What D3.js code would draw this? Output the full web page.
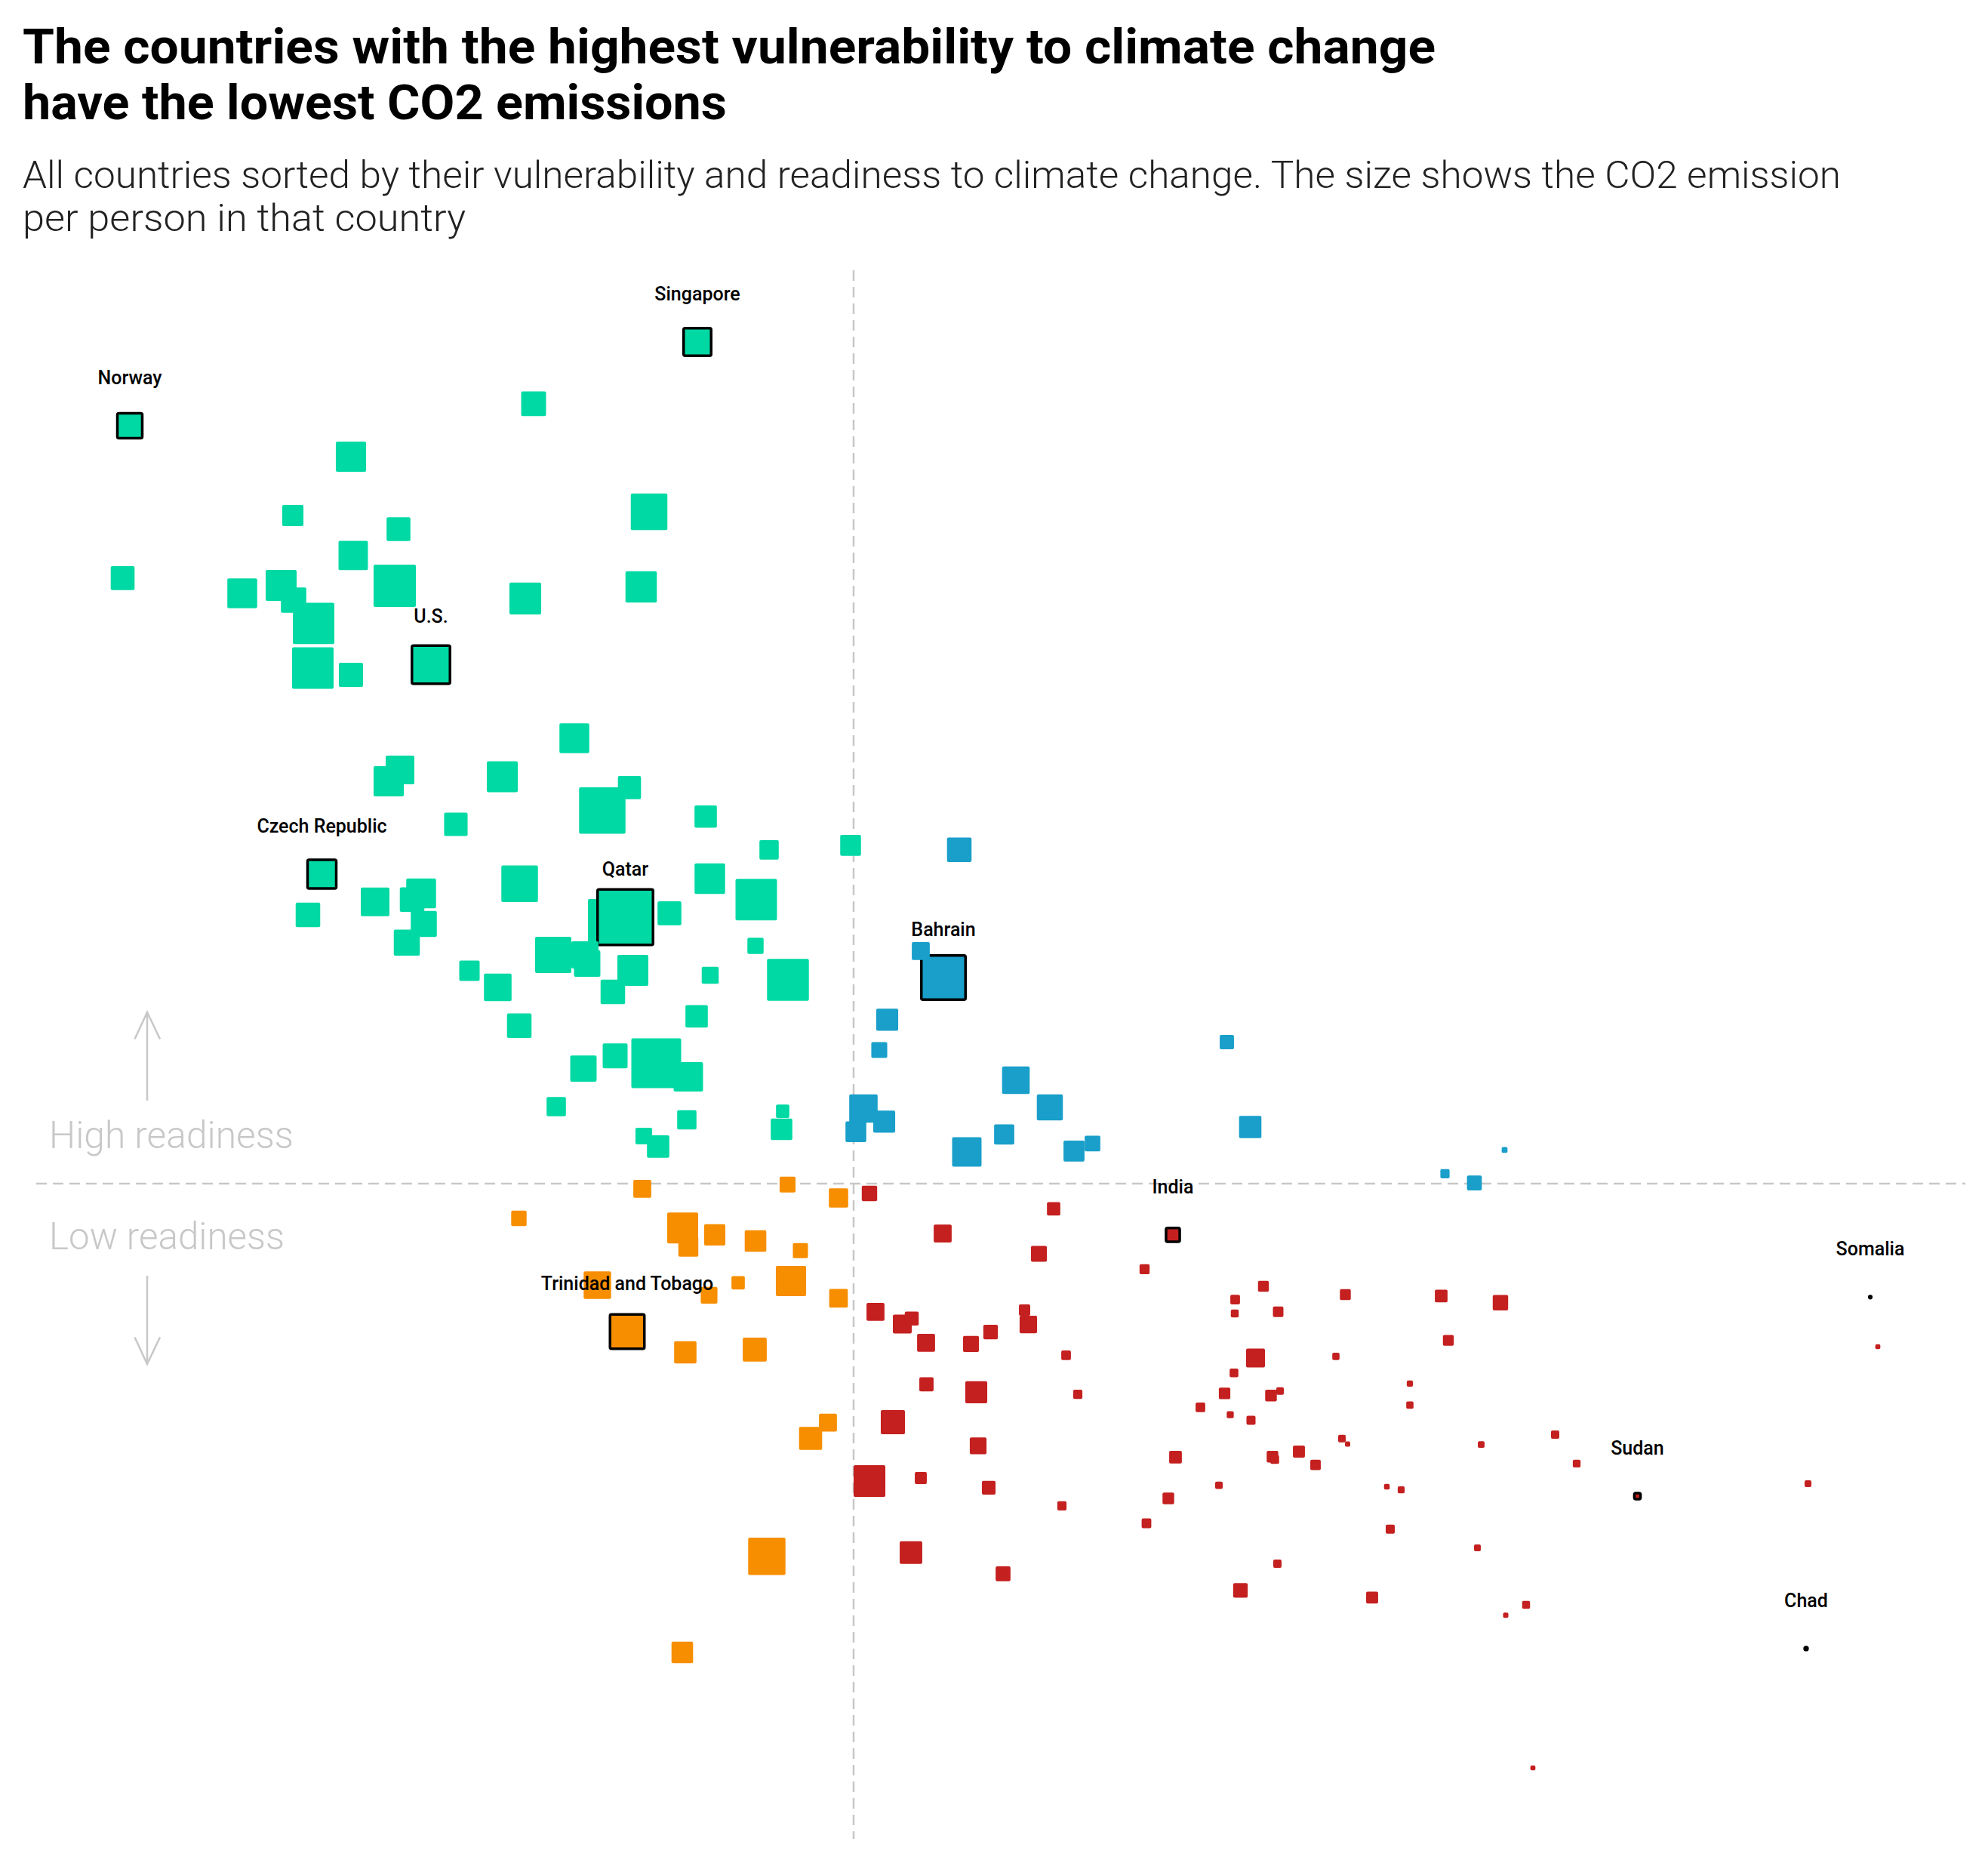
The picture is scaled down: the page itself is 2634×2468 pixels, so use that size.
<!DOCTYPE html>
<html><head><meta charset="utf-8">
<script src="https://cdn.jsdelivr.net/npm/d3@7"></script>
<style>body{margin:0;background:#fff}svg{display:block}</style>
</head><body>
<script>
// ---------------- DATA ----------------
const titleLines = ["The countries with the highest vulnerability to climate change", "have the lowest CO2 emissions"];
const subtitleLines = ["All countries sorted by their vulnerability and readiness to climate change. The size shows the CO2 emission", "per person in that country"];
const readinessLabels = ["High readiness", "Low readiness"];

// Quadrant thresholds (vulnerability / readiness)
const vulnMid = 0.4262, readMid = 0.3773;

// Countries: vulnerability score, readiness score, CO2 per person (t)
const vulnerability = [
  // low vulnerability, high readiness
  .3848,.2344,.3414,.2930,.2776,.3056,.3720,.2936,.2325,.2642,.2745,.2778,.2831,.3046,.3392,.3699,.3142,.2829,.2930,.3522,
  .3060,.3030,.3331,.3596,.3668,.3208,.3870,.4038,.4254,.2853,.2816,.2994,.3092,.3116,.3123,.3078,.3377,.3616,.3657,.3774,
  .3881,.4004,.4002,.3466,.3550,.3556,.3677,.3624,.3244,.3319,.3882,.4088,.3376,.3846,.3630,.3739,.3546,.3824,.3474,.3820,
  .4074,.4071,.3706,.3744,
  // high vulnerability, high readiness
  .4542,.4500,.4440,.4351,.4330,.5251,.4692,.4288,.4343,.4268,.4782,.5313,.4661,.4562,.4846,.4895,.5829,.5987,.5907,
  // low vulnerability, low readiness
  .3702,.4087,.4222,.3375,.3809,.3824,.3894,.4002,.4121,.3583,.3956,.4096,.3879,.4222,.3662,.3816,.4000,.4194,.4148,.4032,.3808,
  // high vulnerability, low readiness
  .4304,.4792,.4498,.5108,.4753,.5033,.4320,.4391,.4416,.4454,.4573,.4625,.4715,.4725,.4825,.4455,.4587,.4856,.4366,.4592,
  .4304,.4440,.4620,.4814,.4414,.4658,.5115,.5096,.5038,.5230,.5181,.5260,.5315,.5245,.5270,.5327,.5368,.5392,.5273,.5272,
  .5348,.5387,.5565,.5540,.5372,.5378,.5442,.5486,.5556,.5571,.5287,.5385,.5819,.5976,.5838,.5736,.5736,.5925,.6121,.6178,
  .6339,.6791,.5675,.5713,.5684,.5915,.5636,.6044,.5990,.6786,.6956,.6976,.6062
];
const readiness = [
  .7490,.7120,.7217,.6983,.6723,.6663,.6740,.6547,.6447,.6380,.6415,.6350,.6247,.6413,.6357,.6408,.6065,.6050,.6020,.5740,
  .5600,.5550,.5570,.5421,.5522,.5360,.5394,.5247,.5267,.5140,.4960,.5017,.5027,.5055,.4920,.4837,.5097,.4933,.4950,.4967,
  .5120,.5027,.4823,.4783,.4783,.4745,.4715,.4620,.4713,.4640,.4693,.4673,.4471,.4512,.4337,.4305,.4281,.4245,.4113,.4055,
  .4093,.4013,.3983,.3937,
  .5247,.4683,.4800,.4497,.4363,.4398,.4230,.4105,.4047,.4002,.4110,.4023,.3990,.3913,.3917,.3950,.3817,.3922,.3776,
  .3750,.3769,.3710,.3620,.3577,.3495,.3547,.3520,.3477,.3325,.3335,.3343,.3280,.3267,.3120,.3028,.3040,.2718,.2648,.2127,.1703,
  .3730,.3662,.3553,.3547,.3463,.3395,.3207,.3153,.3177,.3070,.3065,.3118,.3215,.3151,.3015,.2887,.2852,.2843,.2720,.2615,
  .2460,.2473,.2430,.2350,.2144,.2050,.2565,.2383,.2273,.2441,.2785,.2753,.2728,.2847,.2937,.3003,.2837,.2857,.3261,.3200,
  .3320,.3207,.3283,.3010,.2567,.2555,.2590,.2531,.2647,.2623,.1977,.2095,.3277,.3247,.3081,.2890,.2795,.2621,.2665,.2537,
  .2393,.2448,.2435,.2421,.2247,.2165,.1945,.1913,.1867,.1720,.3272,.3053,.1193
];
const co2 = [
  8.95,7.3,7.3,10.8,5.3,6.7,15.8,10.2,6.7,10.5,11.3,7.6,20.3,21.1,11.9,11.6,17.1,20.3,6.9,10.5,
  9.7,10.8,11.3,25.4,6.3,6.5,5.9,4.4,5.1,9.7,7.1,9.7,7.1,10.5,8.0,8.0,15.8,22.6,36.3,6.7,
  11.0,20.3,3.1,15.5,8.7,8.2,11.3,7.1,4.9,9.0,3.4,20.7,7.1,5.9,7.3,29.3,8.2,10.2,4.4,4.4,
  2.1,5.5,3.3,5.9,
  7.1,23.0,3.8,5.7,3.0,2.4,9.0,9.5,5.7,5.1,8.0,5.9,4.8,10.2,5.2,2.9,1.0,0.4,2.6,
  3.8,3.0,4.4,2.8,11.3,4.7,5.3,5.5,2.7,8.9,2.1,10.8,3.3,4.1,13.9,5.9,6.8,3.8,6.3,16.4,5.5,
  2.8,2.1,3.8,2.2,3.0,1.2,3.8,4.2,2.3,3.8,3.0,2.5,1.5,3.6,1.1,2.4,5.7,1.0,6.9,3.3,
  11.9,1.7,2.2,1.0,6.0,2.6,1.9,1.6,1.1,0.67,1.1,0.58,0.97,1.55,0.9,4.2,1.6,0.67,1.1,0.74,
  1.4,1.3,1.4,0.62,1.6,0.9,1.7,1.3,0.67,0.33,2.5,0.81,1.9,2.8,1.4,0.46,0.62,0.54,0.81,0.71,
  0.45,0.54,0.38,0.57,0.97,0.54,1.7,0.74,0.33,0.1,0.05,0.3,0.3
];
// Highlighted countries (index into the arrays above)
const labelNames = ["Singapore","Norway","U.S.","Czech Republic","Qatar","Bahrain","Trinidad and Tobago","India","Sudan","Chad","Somalia"];
const labelIndex = [0, 1, 16, 29, 38, 65, 97, 107, 164, 173, 174];

const quadrantColor = {
  lowVulnHighReady: "#00d9a4",
  highVulnHighReady: "#199fca",
  lowVulnLowReady: "#f78e00",
  highVulnLowReady: "#c4201f"
};

// ---------------- CHART ----------------
const W = 2634, H = 2468;
const svg = d3.select("body").append("svg").attr("width", W).attr("height", H)
  .style("font-family", "Roboto, 'Noto Sans', sans-serif");

const x = d3.scaleLinear().domain([0.2, 0.7268]).range([0, W]);
const y = d3.scaleLinear().domain([0.9, 0.0773]).range([0, H]);
const side = d3.scaleSqrt().domain([0, 40]).range([0, 77.16]);

const data = vulnerability.map((v, i) => ({v, r: readiness[i], c: co2[i]}));
labelIndex.forEach((idx, k) => data[idx].name = labelNames[k]);
const colorOf = d => d.v < vulnMid
  ? (d.r >= readMid ? quadrantColor.lowVulnHighReady : quadrantColor.lowVulnLowReady)
  : (d.r >= readMid ? quadrantColor.highVulnHighReady : quadrantColor.highVulnLowReady);

// title & subtitle
const title = svg.append("g");
const titleW = [1872, 933];
titleLines.forEach((t, i) => title.append("text")
  .attr("x", 30).attr("y", 84 + i * 74)
  .attr("font-size", 64).attr("font-weight", 700).attr("fill", "#000")
  .attr("textLength", titleW[i]).attr("lengthAdjust", "spacingAndGlyphs").text(t));
const subW = [2409, 587];
subtitleLines.forEach((t, i) => title.append("text")
  .attr("x", 30).attr("y", 249 + i * 57)
  .attr("font-size", 50).attr("font-weight", 300).attr("fill", "#222")
  .attr("textLength", subW[i]).attr("lengthAdjust", "spacingAndGlyphs").text(t));

// quadrant lines
const gl = svg.append("g").attr("stroke", "#c8c8c8").attr("stroke-width", 2.5).attr("stroke-dasharray", "14,8");
gl.append("line").attr("x1", x(vulnMid)).attr("x2", x(vulnMid)).attr("y1", 358).attr("y2", 2436);
gl.append("line").attr("x1", 48).attr("x2", 2604).attr("y1", y(readMid)).attr("y2", y(readMid));

// readiness annotations
const ann = svg.append("g");
const annW = [324, 312];
readinessLabels.forEach((t, i) => ann.append("text")
  .attr("x", 65).attr("y", [1521, 1655][i])
  .attr("font-size", 50).attr("font-weight", 300).attr("fill", "#c8c8c8")
  .attr("textLength", annW[i]).attr("lengthAdjust", "spacingAndGlyphs").text(t));
const arr = ann.append("g").attr("stroke", "#c8c8c8").attr("stroke-width", 2.5).attr("fill", "none");
arr.append("path").attr("d", "M195,1458V1341M178.5,1376.5L195,1341L212,1376.5");
arr.append("path").attr("d", "M195,1690V1807M178.5,1771.5L195,1807L212,1771.5");

// squares
svg.append("g").selectAll("rect").data(data).join("rect")
  .attr("x", d => x(d.v) - side(d.c) / 2)
  .attr("y", d => y(d.r) - side(d.c) / 2)
  .attr("width", d => side(d.c))
  .attr("height", d => side(d.c))
  .attr("rx", 2)
  .attr("fill", colorOf)
  .attr("stroke", d => d.name ? "#000" : "none")
  .attr("stroke-width", 3.5);

// labels
svg.append("g").selectAll("text").data(data.filter(d => d.name)).join("text")
  .attr("x", d => x(d.v)).attr("y", d => y(d.r) - 55)
  .attr("text-anchor", "middle").attr("font-size", 25).attr("font-weight", 500)
  .attr("fill", "#000").text(d => d.name);
</script>
</body></html>
